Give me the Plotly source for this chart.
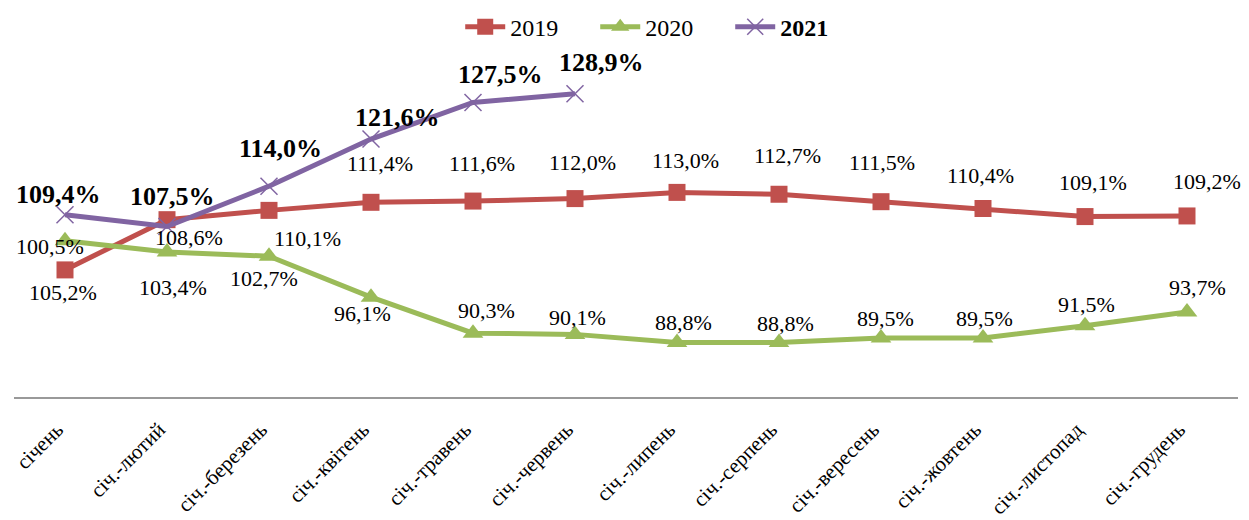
import plotly.graph_objects as go

categories = ["січень", "січ.-лютий", "січ.-березень", "січ.-квітень", "січ.-травень",
              "січ.-червень", "січ.-липень", "січ.-серпень", "січ.-вересень",
              "січ.-жовтень", "січ.-листопад", "січ.-грудень"]
v2019 = [100.5, 108.6, 110.1, 111.4, 111.6, 112.0, 113.0, 112.7, 111.5, 110.4, 109.1, 109.2]
v2020 = [105.2, 103.4, 102.7, 96.1, 90.3, 90.1, 88.8, 88.8, 89.5, 89.5, 91.5, 93.7]
v2021 = [109.4, 107.5, 114.0, 121.6, 127.5, 128.9]

# label offsets in pixels (dx right, dy down) relative to each point
off2019 = [(-15, -23), (22, 18), (38, 28), (9, -39), (9, -38), (7, -36),
           (8, -32), (8, -39), (1, -39), (-3, -33), (8, -34), (20, -34)]
off2020 = [(-2, 52), (6, 36), (-5, 22), (-9, 16), (13, -23), (2, -17),
           (6, -20), (6, -19), (4, -20), (1, -20), (1, -21), (10, -25)]
off2021 = [(-7, -20), (5, -30), (11, -38), (26, -22), (27, -28), (26, -31)]

RED = "#C0504D"
GREEN = "#9BBB59"
PURPLE = "#8064A2"
FONT = "Times New Roman, Liberation Serif, DejaVu Serif, serif"

fig = go.Figure()
fig.add_trace(go.Scatter(
    x=categories, y=v2019, name="2019", mode="lines+markers",
    line=dict(color=RED, width=5),
    marker=dict(symbol="square", size=17, color=RED)))
fig.add_trace(go.Scatter(
    x=categories, y=v2020, name="2020", mode="lines+markers",
    line=dict(color=GREEN, width=5),
    marker=dict(symbol="triangle-up", size=18, color=GREEN)))
fig.add_trace(go.Scatter(
    x=categories[:len(v2021)], y=v2021, name="<b>2021</b>", mode="lines+markers",
    line=dict(color=PURPLE, width=5),
    marker=dict(symbol="x-thin-open", size=17, color=PURPLE,
                line=dict(color=PURPLE, width=1.5))))


def fmt(v):
    return f"{v:.1f}".replace(".", ",") + "%"


annotations = []
for vals, offs, bold in ((v2019, off2019, False), (v2020, off2020, False), (v2021, off2021, True)):
    for c, v, (dx, dy) in zip(categories, vals, offs):
        annotations.append(dict(
            x=c, y=v, xref="x", yref="y",
            text=f"<b>{fmt(v)}</b>" if bold else fmt(v),
            showarrow=False, xshift=dx, yshift=-dy,
            font=dict(family=FONT, size=26 if bold else 22, color="#000000")))

fig.update_layout(
    width=1241, height=512,
    margin=dict(l=6, r=11, t=0, b=123, autoexpand=False),
    paper_bgcolor="white", plot_bgcolor="white",
    font=dict(family=FONT, color="#000000"),
    showlegend=True,
    legend=dict(orientation="h", x=0.53, xanchor="center", y=0.951, yanchor="middle",
                font=dict(family=FONT, size=24, color="#000000"),
                bgcolor="rgba(0,0,0,0)", itemwidth=40,
                entrywidth=80, entrywidthmode="pixels"),
    annotations=annotations,
    xaxis=dict(type="category", range=[-0.5, 11.5], showgrid=False, zeroline=False,
               showline=True, linecolor="#999999", linewidth=2, automargin=False,
               tickangle=-45, ticks="", ticklabelstandoff=10, ticklabelshift=-8,
               tickfont=dict(family=FONT, size=21, color="#000000")),
    yaxis=dict(range=[80, 142.74], visible=False, showgrid=False, zeroline=False,
               automargin=False),
)

fig.write_html("out.html")
